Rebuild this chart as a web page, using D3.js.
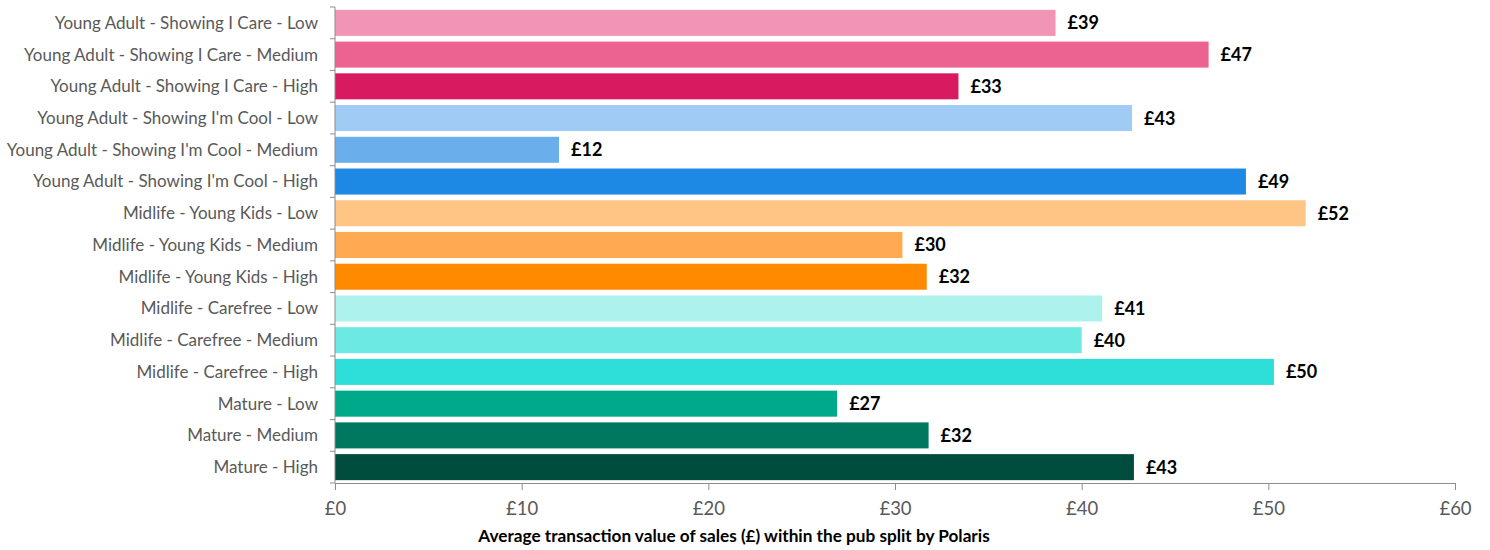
<!DOCTYPE html>
<html><head><meta charset="utf-8">
<script src="https://cdn.jsdelivr.net/npm/d3@7"></script>
<style>body{margin:0;background:#fff;} svg{display:block;}</style>
</head><body>
<svg id="c" width="1490" height="550"></svg>
<script>
const categories = [
  "Young Adult - Showing I Care - Low",
  "Young Adult - Showing I Care - Medium",
  "Young Adult - Showing I Care - High",
  "Young Adult - Showing I'm Cool - Low",
  "Young Adult - Showing I'm Cool - Medium",
  "Young Adult - Showing I'm Cool - High",
  "Midlife - Young Kids - Low",
  "Midlife - Young Kids - Medium",
  "Midlife - Young Kids - High",
  "Midlife - Carefree - Low",
  "Midlife - Carefree - Medium",
  "Midlife - Carefree - High",
  "Mature - Low",
  "Mature - Medium",
  "Mature - High"
];
const values = [38.6, 46.8, 33.4, 42.7, 12.0, 48.8, 52.0, 30.4, 31.7, 41.1, 40.0, 50.3, 26.9, 31.8, 42.8];
const colors = ["#F294B5","#EC6291","#D81B60","#9FCBF4","#6AAEEC","#1E88E5","#FFC585","#FFAA52","#FF8A00","#AEF2EE","#6DE9E3","#2DDFD8","#00A98A","#00775F","#004D3E"];
const xTicks = [0, 10, 20, 30, 40, 50, 60];
const xTitle = "Average transaction value of sales (£) within the pub split by Polaris";

(function () {
const svg = d3.select("#c");
const mLeft = 335, mRight = 1455, mTop = 7, mBottom = 483;
const x = d3.scaleLinear().domain([0, 60]).range([mLeft, mRight]);
const y = d3.scaleBand().domain(categories).range([mTop, mBottom]).paddingInner(0.18).paddingOuter(0.09);
const font = "Lato, 'Noto Sans', sans-serif";

svg.append("g").selectAll("rect").data(values).join("rect")
  .attr("x", x(0))
  .attr("y", (d, i) => y(categories[i]))
  .attr("width", d => x(d) - x(0))
  .attr("height", y.bandwidth())
  .attr("fill", (d, i) => colors[i]);

svg.append("g").selectAll("text").data(values).join("text")
  .attr("x", d => x(d) + 12)
  .attr("y", (d, i) => y(categories[i]) + y.bandwidth() / 2)
  .attr("dy", "0.36em")
  .attr("font-family", font)
  .attr("font-weight", "bold")
  .attr("font-size", 18)
  .attr("fill", "#000")
  .text(d => "£" + Math.round(d));

const yAxisG = svg.append("g").attr("transform", `translate(${mLeft},0)`);
yAxisG.append("line").attr("x1", 0).attr("x2", 0).attr("y1", mTop).attr("y2", mBottom).attr("stroke", "#8c8c8c");
const step = (mBottom - mTop) / categories.length;
const bounds = d3.range(categories.length + 1).map(i => mTop + i * step);
yAxisG.selectAll("line.t").data(bounds).join("line").attr("class", "t")
  .attr("x1", -5).attr("x2", 0).attr("y1", d => d).attr("y2", d => d)
  .attr("stroke", "#8c8c8c");
yAxisG.selectAll("text").data(categories).join("text")
  .attr("x", -17)
  .attr("y", d => y(d) + y.bandwidth() / 2)
  .attr("dy", "0.35em")
  .attr("text-anchor", "end")
  .attr("font-family", font)
  .attr("font-size", 17)
  .attr("fill", "#595959")
  .text(d => d);

const xAxis = d3.axisBottom(x).tickValues(xTicks).tickFormat(d => "£" + d).tickSize(7).tickSizeOuter(0);
const xg = svg.append("g").attr("transform", `translate(0,${mBottom})`).call(xAxis);
xg.select(".domain").attr("stroke", "#8c8c8c");
xg.selectAll(".tick line").attr("stroke", "#8c8c8c");
xg.selectAll(".tick text").attr("font-family", font).attr("font-size", 18.5).attr("fill", "#595959").attr("dy", "1.2em");

svg.append("text")
  .attr("x", 734).attr("y", 542)
  .attr("text-anchor", "middle")
  .attr("font-family", font)
  .attr("font-weight", "bold")
  .attr("font-size", 17.2)
  .attr("fill", "#000")
  .text(xTitle);
})();
</script>
</body></html>
